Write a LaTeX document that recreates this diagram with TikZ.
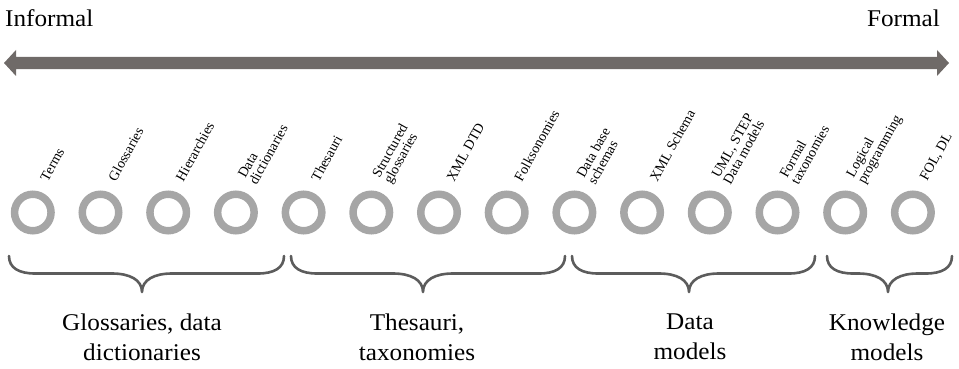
\documentclass[tikz,border=0pt]{standalone}
\usepackage{fontspec}
\setmainfont{Liberation Serif}
\newfontfamily\wideserif{Liberation Serif}[FakeStretch=1.05]
\begin{document}
\begin{tikzpicture}[x=1pt,y=-1pt,
  ring/.style={draw=ringgray,line width=7.5pt,circle,minimum size=36.5pt,inner sep=0pt},
  itemlabel/.style={rotate=61,anchor=west,inner sep=0pt,align=left,
    font=\fontsize{14}{13}\selectfont},
  grouplabel/.style={anchor=north,inner sep=0pt,align=center,
    font=\wideserif\fontsize{24}{30}\selectfont},
  endlabel/.style={inner sep=0pt,font=\wideserif\fontsize{24}{30}\selectfont},
  bracestyle/.style={draw=bracegray,line width=2.6pt,line cap=round,line join=round}]
\definecolor{arrowgray}{RGB}{111,106,104}
\definecolor{ringgray}{RGB}{166,166,166}
\definecolor{bracegray}{RGB}{92,92,92}
\useasboundingbox (0,0) rectangle (959,369);

% formality axis
\node[endlabel,anchor=base west] (informal) at (5,27) {Informal};
\node[endlabel,anchor=base east] (formal) at (940,27) {Formal};
\fill[arrowgray] (4,63) -- (16,50) -- (16,56.8) -- (937,56.8) -- (937,50)
  -- (949,63) -- (937,76) -- (937,69.2) -- (16,69.2) -- (16,76) -- cycle;

% items along the axis
\foreach \i/\txt in {1/Terms,2/Glossaries,3/Hierarchies,4/{Data\\dictionaries},
    5/Thesauri,6/{Structured\\glossaries},7/XML DTD,8/Folksonomies,
    9/{Data base\\schemas},10/XML Schema,11/{UML, STEP\\Data models},
    12/{Formal\\taxonomies},13/{Logical\\programming},14/{FOL, DL}}{
  \pgfmathsetmacro{\cx}{32.8+(\i-1)*67.7}
  \node[ring] (c\i) at (\cx,212.5) {};
  \node[itemlabel] (t\i) at (\cx+11,180) {\txt};
}

% curly braces grouping the items
\newcommand{\groupbrace}[3]{%
  \draw[bracestyle] (#1,256) .. controls (#1,268) and (#1+10,273.5) .. (#1+26,273.5)
    -- (#3-30,273.5) .. controls (#3-12,273.5) and (#3,280) .. (#3,292)
    .. controls (#3,280) and (#3+12,273.5) .. (#3+30,273.5)
    -- (#2-26,273.5) .. controls (#2-10,273.5) and (#2,268) .. (#2,256);}
\groupbrace{9}{284}{142}
\groupbrace{291}{565}{423}
\groupbrace{572}{815}{689}
\groupbrace{827}{952}{888}

% group names
\node[grouplabel] (g1) at (142,313.5) {Glossaries, data\\dictionaries};
\node[grouplabel] (g2) at (417,313.5) {Thesauri,\\taxonomies};
\node[grouplabel] (g3) at (690,313.5) {Data\\models};
\node[grouplabel] (g4) at (887,313.5) {Knowledge\\models};
\end{tikzpicture}
\end{document}
